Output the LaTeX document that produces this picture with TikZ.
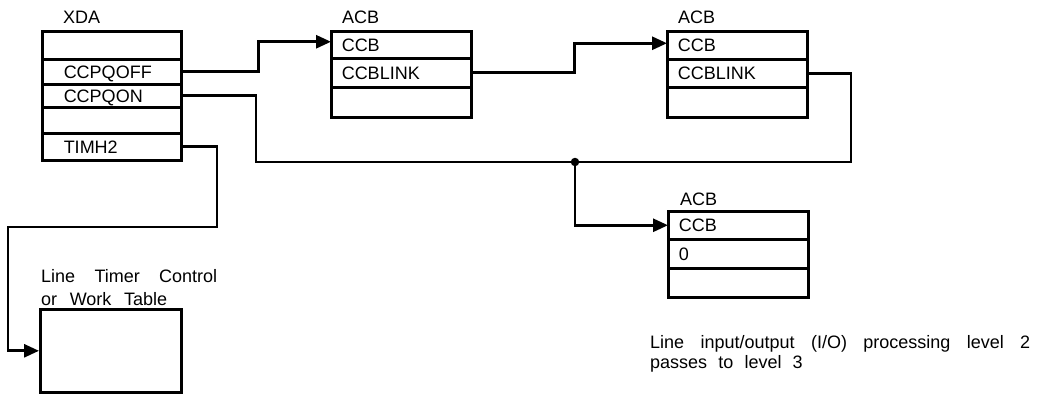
\documentclass[tikz,border=0pt]{standalone}
\usepackage{fontspec}
\setmainfont{Liberation Sans}
\usetikzlibrary{arrows.meta}
\begin{document}
\begin{tikzpicture}[x=1pt,y=-1pt,
  every node/.style={font=\fontsize{18}{21}\selectfont},
  cell/.style={draw, line width=1.5pt, anchor=north west, inner ysep=0pt, align=left, text height=12.9pt, text depth=0pt},
  xcell/.style={cell, inner xsep=21pt, text width=96pt, minimum height=#1},
  acell/.style={cell, inner xsep=10pt, text width=119pt, minimum height=#1},
  frame/.style={draw, line width=2.6pt},
  title/.style={anchor=base west, inner sep=0pt},
  wire/.style={line width=2.8pt},
  link/.style={wire, -{Triangle[length=15pt,width=13pt]}},
  dot/.style={circle, fill, inner sep=0pt, minimum size=8.5pt},
  note/.style={anchor=base west, inner sep=0pt, align=justify},
]
\useasboundingbox (0,0) rectangle (1038,394);

% XDA
\node[xcell=27pt] (xda1) at (42,31) {};
\node[xcell=23pt] (xda2) at (xda1.south west) {CCPQOFF};
\node[xcell=22pt] (xda3) at (xda2.south west) {CCPQON};
\node[xcell=24pt] (xda4) at (xda3.south west) {};
\node[xcell=26pt] (xda5) at (xda4.south west) {TIMH2};
\draw[frame] (xda1.north west) rectangle (xda5.south east);
\node[title] (xdat) at (63,23.3) {XDA};

% ACB 1
\node[acell=26pt] (acb1a) at (331,31) {CCB};
\node[acell=27pt] (acb1b) at (acb1a.south west) {CCBLINK};
\node[acell=29pt] (acb1c) at (acb1b.south west) {};
\draw[frame] (acb1a.north west) rectangle (acb1c.south east);
\node[title] (acb1t) at (342,23) {ACB};

% ACB 2
\node[acell=27pt] (acb2a) at (667,31) {CCB};
\node[acell=26pt] (acb2b) at (acb2a.south west) {CCBLINK};
\node[acell=29pt] (acb2c) at (acb2b.south west) {};
\draw[frame] (acb2a.north west) rectangle (acb2c.south east);
\node[title] (acb2t) at (678,23) {ACB};

% ACB 3
\node[acell=27pt] (acb3a) at (668,211) {CCB};
\node[acell=27pt] (acb3b) at (acb3a.south west) {0};
\node[acell=28pt] (acb3c) at (acb3b.south west) {};
\draw[frame] (acb3a.north west) rectangle (acb3c.south east);
\node[title] (acb3t) at (680,205) {ACB};

% Line timer control table
\node[draw, line width=2.6pt, anchor=north west, minimum width=141pt, minimum height=83pt, inner sep=0pt] (ltc) at (39,308) {};
\node[note, text width=176pt, font=\fontsize{18}{22.3}\selectfont] (ltct) at (41,282.7)
  {\hyphenpenalty=10000 \spaceskip=0.7em plus 1em Line Timer Control or Work Table};

% note
\node[note, text width=380pt, font=\fontsize{18}{20}\selectfont] (notet) at (650,348.5)
  {\hyphenpenalty=10000 \spaceskip=0.62em plus 1em Line input/output (I/O) processing level 2 passes to level 3};

% connectors
\draw[link] (xda2.east) -- ++(77,0) |- ([yshift=3pt]acb1a.west);
\draw[link] (acb1b.east) -- ++(103,0) |- ([yshift=2pt]acb2a.west);

\coordinate (busL) at (256,162);
\coordinate (busR) at (851,162);
\draw[wire] (xda3.east) -| (busL) -- (busR) |- (acb2b.east);
\node[dot] (jdot) at (575,162) {};
\draw[link] (jdot.center) |- (acb3a.west);

\coordinate (t1) at (217,227);
\coordinate (t2) at (8,227);
\draw[link] (xda5.east) -| (t1) -- (t2) |- (ltc.west);
\end{tikzpicture}
\end{document}
